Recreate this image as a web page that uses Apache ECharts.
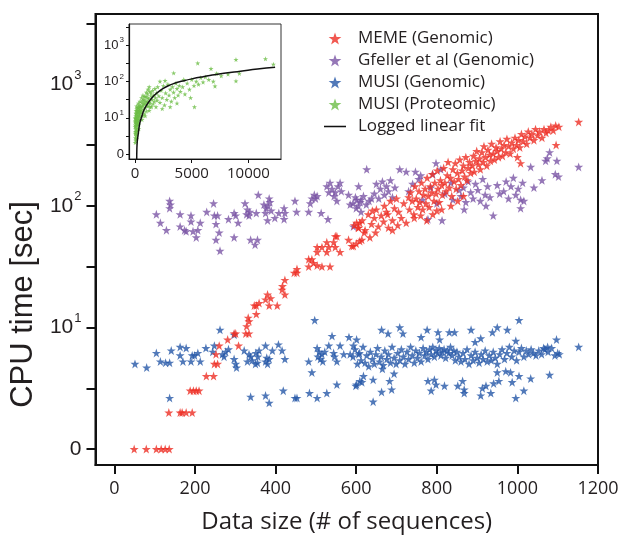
<!DOCTYPE html>
<html><head><meta charset="utf-8">
<script src="https://cdn.jsdelivr.net/npm/echarts@6/dist/echarts.min.js"></script>
<style>html,body{margin:0;padding:0;background:#fff}#c{width:622px;height:539px}</style>
</head><body><div id="c"></div>
<script>
// Values: [data size (# sequences), log10 CPU time (sec)]
const memeData = [
[49,0],[79,0],[104,0],[116,0],[126,0],[136,0],
[135,0.30],[163,0.30],[168,0.30],[178,0.30],[193,0.30],
[188,0.48],[196,0.48],[203,0.48],[210,0.48],
[228,0.60],[246,0.60],[248,0.70],[256,0.70],[252,0.78],
[260,0.85],[308,0.85],[281,0.90],[297,0.95],[301,0.95],[326,0.95],[334,0.95],
[328,1.01],[332,1.08],[334,1.05],[352,1.11],
[347,1.18],[352,1.18],[384,1.18],[404,1.18],[359,1.20],
[375,1.23],[388,1.24],[380,1.27],[423,1.27],[416,1.31],[417,1.34],[423,1.39],
[446,1.45],[453,1.45],[453,1.48],
[482,1.50],[503,1.51],[515,1.50],[535,1.50],[494,1.53],[482,1.56],[490,1.56],
[503,1.62],[527,1.62],[560,1.62],[503,1.66],[515,1.66],[532,1.66],[548,1.66],
[527,1.70],[544,1.70],[581,1.72],[614,1.72],[548,1.75],[552,1.75],[593,1.67],
[595,1.84],[601,1.86],[609,1.86],[605,1.82],
[589,1.67],[600,1.69],[609,1.71],[634,1.74],[620,1.78],
[606,1.82],[615,1.88],[622,1.80],[630,1.93],[638,1.85],[645,1.90],[650,1.97],[655,1.83],[662,1.92],[668,1.87],[675,1.95],[680,1.82],[648,1.78],[640,1.96],
[670,2.00],[678,1.93],[685,2.04],[690,1.88],[695,1.98],[700,2.06],[705,1.95],[712,1.90],[718,2.02],[724,1.86],[730,2.07],[690,1.80],[703,1.84],
[732,1.97],[735,2.11],[739,2.04],[743,1.93],[746,2.16],[749,2.06],[753,1.99],[756,2.12],[758,2.03],[762,2.19],[765,1.97],[767,2.09],[771,2.14],[773,2.02],[776,2.23],[779,2.08],[781,1.99],[784,2.16],[787,2.11],[789,2.26],[793,2.04],[795,2.19],[798,2.10],[801,2.29],[803,2.14],[806,2.03],[809,2.21],[812,2.17],[814,2.09],[817,2.31],[820,2.19],[823,2.12],[826,2.25],[828,2.36],[831,2.15],[834,2.23],[837,2.08],[840,2.30],[843,2.20],[846,2.35],[848,2.14],[851,2.27],[854,2.22],[857,2.38],[860,2.17],[863,2.29],[866,2.33],[869,2.24],[872,2.40],[875,2.21],[878,2.31],[881,2.36],[884,2.27],
[760,1.92],[775,1.88],[790,1.93],[812,1.97],[835,2.00],[852,2.04],[866,2.08],[744,1.90],[800,1.96],
[888,2.33],[891,2.41],[893,2.28],[897,2.37],[899,2.45],[903,2.34],[906,2.39],[908,2.30],[912,2.44],[915,2.36],[917,2.49],[921,2.40],[924,2.33],[927,2.46],[931,2.42],[933,2.37],[936,2.51],[940,2.43],[943,2.38],[947,2.48],[950,2.45],[953,2.40],[957,2.53],[960,2.47],[963,2.41],[967,2.50],[971,2.44],[974,2.55],[978,2.49],[982,2.43],[986,2.52],[990,2.47],[994,2.56],[998,2.50],
[1003,2.54],[1006,2.48],[1010,2.59],[1014,2.53],[1019,2.57],[1023,2.51],[1027,2.61],[1031,2.56],[1036,2.59],[1041,2.54],[1045,2.63],[1050,2.58],[1055,2.61],[1061,2.56],[1066,2.63],[1071,2.60],[1077,2.62],[1083,2.65],[1089,2.62],[1095,2.66],[1103,2.65],
[1152,2.69],[1096,2.50],[1008,2.35],[1000,2.40]
];
const gfellerData = [
[104,1.93],[114,1.86],[129,1.80],[137,2.04],[137,1.98],[139,2.01],[163,1.93],[163,1.83],[174,1.80],[178,1.79],[190,1.92],[190,1.87],[195,1.79],[203,1.74],[207,1.80],[213,1.86],[229,1.95],[246,2.02],[248,1.92],[256,1.92],[252,1.85],[260,1.78],[252,1.72],[262,1.63],[283,1.89],[297,1.94],[301,1.92],[297,1.74],[307,1.86],[324,2.02],[330,1.97],[334,1.92],[338,1.72],[349,1.68],[355,1.72],[352,1.94],[357,2.09],[371,2.01],[375,1.94],[380,1.88],[384,2.06],[386,2.03],[398,1.90],[408,1.94],[421,1.98],[423,1.94],[421,1.89],[448,2.04],[452,1.95],[482,1.95],[486,2.02],[499,2.06],[503,2.08],[513,1.94],[527,2.16],[532,2.11],[530,1.89],[548,2.11],[552,2.04],[560,2.19],[581,2.09],[585,2.01],[601,2.05],[606,2.16],[593,1.83],
[328,1.93],[336,1.95],[376,1.98],[381,2.00],[389,1.96],[490,2.06],[496,2.09],[535,2.19],[540,2.14],[545,2.08],[555,2.16],[563,2.12],[600,1.98],[610,2.03],[612,1.95],
[592,2.02],[598,2.07],[605,2.00],[612,2.05],[618,2.08],[625,2.01],[632,2.04],[638,2.06],[626,2.30],
[645,2.10],[650,2.18],[656,2.06],[660,2.14],[665,2.20],[670,2.09],[675,2.16],[680,2.12],[685,2.21],[690,2.07],[696,2.15],
[708,2.30],[724,2.28],[747,2.28],[778,1.89],[813,1.88],[798,2.35],[835,2.19],
[730,2.12],[740,2.18],[755,2.22],[765,2.05],[785,2.15],[800,2.02],[820,2.10],[840,2.05],[855,2.13],[790,2.26],[810,2.30],[760,2.25],
[860,2.08],[866,2.15],[872,2.03],[878,2.20],[884,2.11],[890,2.06],[896,2.18],[902,2.13],[908,2.04],[914,2.22],[920,2.09],[926,2.16],[932,2.07],[868,1.97],[940,1.92],[922,2.00],
[966,2.12],[972,2.20],[978,2.06],[984,2.16],[990,2.23],[996,2.09],[1002,2.14],[1008,2.05],[1013,2.19],[1008,1.98],[1016,2.04],[950,2.17],[956,2.10],
[1033,2.32],[1041,2.15],[1061,2.21],[1070,2.37],[1080,2.44],[1074,2.39],[1098,2.37],[1094,2.26],[1102,2.24],[1152,2.32]
];
const musiGenomicData = [
[51,0.70],[80,0.67],[104,0.79],[114,0.72],[127,0.71],[137,0.71],[141,0.81],[137,0.42],[163,0.84],[163,0.77],[170,0.72],[178,0.83],[190,0.72],[193,0.77],[199,0.77],[207,0.79],[213,0.72],[227,0.83],[248,0.85],[244,0.80],[262,0.98],[283,0.82],[297,0.74],[301,0.70],[303,0.67],[297,0.94],[322,0.81],[330,0.72],[334,0.78],[338,0.43],[351,0.79],[355,0.71],[359,0.81],[375,0.72],[375,0.85],[375,0.44],[384,0.38],[384,0.74],[392,0.81],[407,0.86],[416,0.81],[423,0.74],[419,0.48],[448,0.42],[453,0.42],[482,0.72],[484,0.46],[490,0.63],[497,1.06],[503,0.83],[503,0.42],[511,0.74],[515,0.78],[527,0.46],[532,0.85],[540,0.93],[544,0.79],[552,0.72],[552,0.53],[560,0.85],[569,0.78],[582,0.92],[585,0.78],[593,0.85],[601,0.90],[599,0.52],[606,0.78],[609,0.56],
[268,0.78],[272,0.76],[276,0.80],[338,0.76],[342,0.73],[350,0.70],[356,0.76],[378,0.75],[380,0.70],[505,0.76],[508,0.80],[517,0.72],[522,0.80],[546,0.76],
[663,0.98],[679,0.95],[708,1.00],[716,0.95],[761,0.92],[776,0.98],[803,0.96],[807,0.90],[831,0.96],[844,0.96],[885,0.98],[895,0.88],[909,0.91],[938,0.96],[950,1.00],[975,0.98],[996,0.89],[1004,1.06],[1065,0.83],[1075,0.84],[1097,0.90],[1152,0.84],
[601,0.53],[614,0.55],[618,0.60],[642,0.57],[642,0.39],[663,0.47],[683,0.56],[688,0.49],[694,0.62],[665,0.66],[778,0.56],[786,0.48],[794,0.57],[798,0.53],[819,0.52],[852,0.52],[864,0.56],[868,0.49],[868,0.46],[909,0.44],[913,0.50],[922,0.52],[934,0.46],[941,0.54],[950,0.63],[954,0.56],[971,0.64],[983,0.63],[987,0.55],[996,0.42],[1004,0.60],[1016,0.48],[1033,0.58],[1080,0.61],
[592,0.76],[597,0.82],[603,0.70],[608,0.79],[612,0.73],[617,0.84],[622,0.71],[626,0.77],[631,0.68],[635,0.80],[640,0.74],[645,0.70],[649,0.78],[653,0.83],[658,0.72],[662,0.76],[667,0.69],[671,0.81],[676,0.74],[680,0.78],[685,0.71],[689,0.84],[694,0.75],[699,0.70],[703,0.79],[708,0.73],[712,0.82],[717,0.76],[721,0.70],[726,0.80],[730,0.74],[735,0.84],[739,0.77],[744,0.71],[748,0.81],[752,0.75],[757,0.79],[761,0.72],[766,0.83],[770,0.77],[774,0.80],[778,0.74],[782,0.82],[786,0.78],[790,0.84],[794,0.76],[798,0.81],[802,0.79],[806,0.83],[810,0.77],[814,0.80],[818,0.82],[822,0.75],[826,0.81],[830,0.79],[834,0.84],[838,0.77],[842,0.81],[846,0.73],[850,0.80],[855,0.76],[860,0.72],[865,0.79],[870,0.74],[875,0.82],[880,0.70],[885,0.77],[890,0.73],[895,0.80],[900,0.75],[905,0.71],[910,0.78],[915,0.74],[920,0.81],[925,0.72],[930,0.77],[935,0.73],[940,0.80],[945,0.75],[950,0.70],[956,0.78],[962,0.82],[968,0.74],[974,0.79],[980,0.84],[986,0.76],[992,0.81],[998,0.73],[1004,0.80],[1010,0.83],[1016,0.76],[1022,0.81],[1028,0.78],[1034,0.82],[1040,0.79],[1046,0.77],[1053,0.81],[1060,0.78],[1068,0.82],[1076,0.80],[1085,0.83],[1093,0.77],[1100,0.79],[1104,0.78]
];
// Inset: MUSI proteomic [data size, log10 CPU time]
const musiProteomicData = [
[20,0.32],[40,0.45],[60,0.38],[30,0.55],[80,0.62],[50,0.70],[100,0.50],[120,0.78],[70,0.85],[140,0.66],[30,0.92],[90,0.98],[160,0.88],[60,1.05],[110,1.10],[180,0.95],[200,1.02],[150,1.15],[220,0.80],[40,0.80],[250,1.08],[280,0.92],[300,1.18],[320,1.00],[350,1.12],[380,1.25],[420,1.05],[450,1.20],[80,1.12],[20,1.00],[130,0.42],[60,0.58],[180,0.72],[240,0.64],[270,0.86],[10,0.75],[100,0.90],[200,1.20],[330,0.82],[400,0.95],[150,1.25],[480,1.12],
[45,0.62],[85,0.78],[125,0.95],[165,1.05],[210,0.90],[260,1.15],[310,1.28],[360,1.35],[410,1.18],[460,1.32],[15,0.88],[55,0.98],[95,1.20],[135,1.32],[175,0.55],[230,1.28],[290,1.40],[340,0.70],[390,1.05],[440,1.45],
[520,1.30],[560,1.15],[600,1.42],[650,1.05],[700,1.35],[740,1.22],[780,1.50],[820,1.10],[860,1.40],[900,1.28],[950,1.58],[1000,1.18],[1050,1.45],[1100,1.65],[1150,1.32],[1200,1.52],[1250,1.20],[1300,1.72],[1350,1.40],[1400,1.60],[1450,1.30],[1500,1.50],[1550,1.75],[1600,1.38],[1650,1.62],[1700,1.45],[1750,1.80],[1800,1.55],[1850,1.30],[1900,1.68],[1950,1.48],[2000,1.85],[620,0.95],[900,1.05],[1150,1.78],[1250,1.85],[700,1.62],[580,1.55],[1000,1.70],
[540,1.22],[610,1.30],[680,1.48],[760,1.38],[840,1.58],[920,1.45],[1020,1.35],[1120,1.55],[1220,1.42],[1320,1.30],[1420,1.68],
[2100,1.60],[2200,1.42],[2300,1.75],[2400,1.55],[2500,1.88],[2600,1.35],[2700,1.68],[2800,1.50],[2900,1.92],[3000,1.62],[3100,1.78],[3200,1.45],[3300,1.85],[3400,1.70],[3500,1.55],[3600,1.95],[3700,1.80],[3800,1.62],[3900,1.88],[4000,1.72],[2200,2.00],[2650,2.02],[3410,2.23],[3100,1.30],[3700,1.40],[2400,1.25],
[4200,1.85],[4400,1.65],[4600,1.95],[4800,1.78],[5000,2.05],[5200,1.88],[5240,1.30],[5400,2.00],[5530,2.50],[5600,1.92],[5800,2.10],[6000,1.98],[6200,2.12],[6500,2.05],[6700,2.35],[6900,2.00],[7050,1.87],[7200,2.22],[4300,2.05],[4900,1.55],
[7600,2.15],[8200,2.20],[8900,2.60],[8900,2.01],[9200,2.22],[11500,2.62],[12200,2.47]
];
// Logged linear fit
const fitData = [[150,-0.13],[160,0.1],[200,0.35],[290,0.57],[420,0.85],[590,1.03],[800,1.22],[1050,1.36],[1320,1.48],[1700,1.62],[2200,1.75],[2800,1.86],[3400,1.94],[4200,2.01],[5000,2.07],[6000,2.13],[7000,2.18],[8000,2.23],[9300,2.28],[10800,2.34],[12350,2.39]];

const seriesNames = ['MEME (Genomic)','Gfeller et al (Genomic)','MUSI (Genomic)','MUSI (Proteomic)','Logged linear fit'];
const xTicks = [0,200,400,600,800,1000,1200];
const insetXTicks = [0,5000,10000];
const yLabelValues = [0,1,2,3];
const yTickValues = [0,0.5,1,1.5,2,2.5,3,3.5];

const STAR = 'path://M50,0L61.8,34.5L98,34.5L68.7,56L79.4,90.5L50,69.1L20.6,90.5L31.3,56L2,34.5L38.2,34.5Z';
const ink = '#231f20';
const powFmt = v => v === 0 ? '{b|0}' : '{b|10}{s|' + v + '}';
const plainFmt = v => String(v);

const chart = echarts.init(document.getElementById('c'));
chart.setOption({
  animation: false,
  legend: {
    orient: 'vertical', left: 319, top: 25, itemWidth: 22, itemHeight: 12, itemGap: 5,
    textStyle: {fontSize: 17, fontFamily: 'Open Sans', color: ink, lineHeight: 17, padding: [0,0,0,7]},
    data: [seriesNames[0], seriesNames[1], seriesNames[2], seriesNames[3],
           {name: seriesNames[4], icon: 'path://M0,0L100,0L100,7L0,7Z'}]
  },
  grid: [
    {left: 92, top: 14, width: 506, height: 452, show: true, borderColor: '#111', borderWidth: 2},
    {left: 129, top: 24, width: 152, height: 135, show: true, borderColor: '#333', borderWidth: 1, backgroundColor: '#fff'}
  ],
  xAxis: [
    {gridIndex: 0, type: 'value', min: -47, max: 1200,
     axisLine: {show: true, onZero: false, lineStyle: {color: '#111', width: 2}},
     axisTick: {show: true, length: 9, lineStyle: {color: '#111', width: 2}, customValues: xTicks},
     axisLabel: {customValues: xTicks, formatter: plainFmt, margin: 15, fontSize: 18, fontFamily: 'Open Sans', color: ink},
     splitLine: {show: false},
     name: 'Data size (# of sequences)', nameLocation: 'middle', nameGap: 45,
     nameTextStyle: {fontSize: 24, fontFamily: 'Open Sans', color: ink}},
    {gridIndex: 1, type: 'value', min: -530, max: 12870,
     axisLine: {show: true, onZero: false, lineStyle: {color: '#111', width: 1.2}},
     axisTick: {show: true, length: 4, lineStyle: {color: '#111'}, customValues: insetXTicks},
     axisLabel: {customValues: insetXTicks, formatter: plainFmt, margin: 7, fontSize: 15, fontFamily: 'Open Sans', color: ink},
     splitLine: {show: false}}
  ],
  yAxis: [
    {gridIndex: 0, type: 'value', min: -0.131, max: 3.577,
     axisLine: {show: true, onZero: false, lineStyle: {color: '#111', width: 2}},
     axisTick: {show: true, length: 9, lineStyle: {color: '#111', width: 2}, customValues: yTickValues},
     axisLabel: {customValues: yLabelValues, margin: 14, formatter: powFmt,
       rich: {b: {fontSize: 21, fontFamily: 'Liberation Sans', color: ink},
              s: {fontSize: 13, fontFamily: 'Liberation Sans', color: ink, padding: [0,0,18,1]}}},
     splitLine: {show: false},
     name: 'CPU time [sec]', nameLocation: 'middle', nameGap: 52, nameRotate: 90,
     nameTextStyle: {fontSize: 31, fontFamily: 'Liberation Sans', color: ink, padding: [0,130,0,0]}},
    {gridIndex: 1, type: 'value', min: -0.131, max: 3.577,
     axisLine: {show: true, onZero: false, lineStyle: {color: '#111', width: 1.2}},
     axisTick: {show: true, length: 3, lineStyle: {color: '#111'}, customValues: yTickValues},
     axisLabel: {customValues: yLabelValues, margin: 5, formatter: powFmt,
       rich: {b: {fontSize: 13, fontFamily: 'Liberation Sans', color: ink},
              s: {fontSize: 8, fontFamily: 'Liberation Sans', color: ink, padding: [0,0,10,1]}}},
     splitLine: {show: false}}
  ],
  series: [
    {name: seriesNames[1], type: 'scatter', xAxisIndex: 0, yAxisIndex: 0, data: gfellerData,
     symbol: STAR, symbolSize: 9, itemStyle: {color: '#7b55a5'}},
    {name: seriesNames[2], type: 'scatter', xAxisIndex: 0, yAxisIndex: 0, data: musiGenomicData,
     symbol: STAR, symbolSize: 9, itemStyle: {color: '#2558a8'}},
    {name: seriesNames[0], type: 'scatter', xAxisIndex: 0, yAxisIndex: 0, data: memeData,
     symbol: STAR, symbolSize: 9, itemStyle: {color: '#ee2e24'}},
    {name: seriesNames[3], type: 'scatter', xAxisIndex: 1, yAxisIndex: 1, data: musiProteomicData,
     symbol: STAR, symbolSize: 5, itemStyle: {color: '#6cbd45'}},
    {name: seriesNames[4], type: 'line', xAxisIndex: 1, yAxisIndex: 1, data: fitData,
     symbol: 'none', smooth: true, clip: true, lineStyle: {color: '#111', width: 1.5}, itemStyle: {color: '#111'}}
  ]
});
</script></body></html>
